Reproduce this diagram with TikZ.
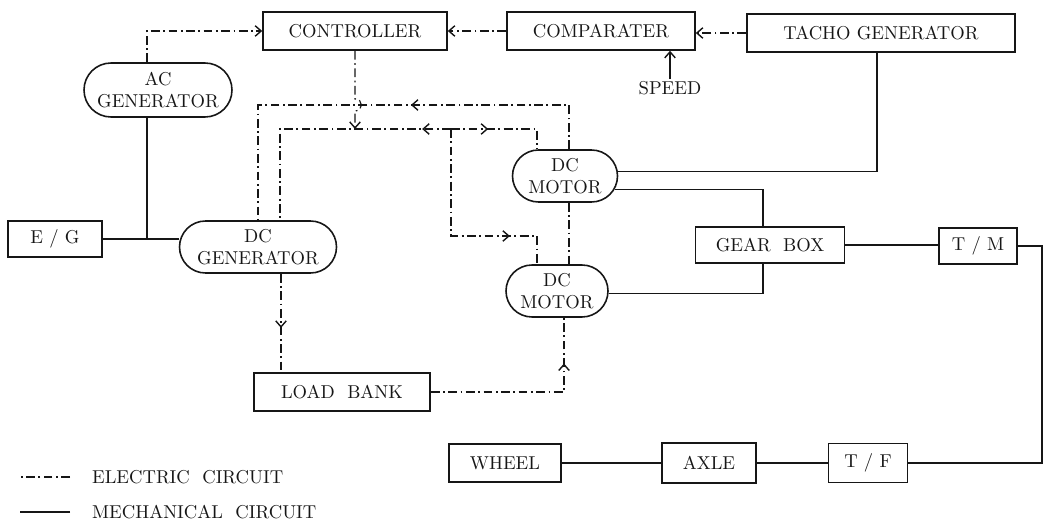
\documentclass[tikz,border=0pt]{standalone}
\usepackage{fontspec}
\usepackage{tikz}
\usetikzlibrary{arrows.meta,calc,decorations.markings,shapes.misc}
\definecolor{trInk}{HTML}{161616}
\tikzset{
  tr diagram/.style={font=\rmfamily\fontsize{10.6}{12.7}\selectfont\addfontfeatures{LetterSpace=4},
    text=trInk, line cap=butt, line join=miter},
  tr box/.style={draw=trInk, rectangle, line width=0.9pt, align=center,
    inner sep=0pt, minimum height=0.76cm},
  tr unit/.style={tr box, rounded rectangle, minimum height=1.04cm},
  tr mech/.style={draw=trInk, line width=0.65pt},
  tr elec/.style={tr mech, dash pattern=on 5pt off 2pt on 1pt off 2pt},
  tr arrow/.style={-{Straight Barb[length=1.2mm,width=2.1mm,line width=0.8pt]}},
  tr mid/.style={postaction={decorate}, decoration={markings,
    mark=at position #1 with {\arrow{Straight Barb[length=1.2mm,width=2.1mm,line width=0.8pt]}}}},
  tr label/.style={text=trInk, inner sep=1pt}
}
\begin{document}
\begin{tikzpicture}[tr diagram]
\useasboundingbox (0,0) rectangle (20.94,10.42);
\node[tr box,minimum width=3.68cm] (ctrl) at (7.10,9.80) {CONTROLLER};
\node[tr box,minimum width=3.76cm] (comp) at (12.02,9.80) {COMPARATER};
\node[tr box,minimum width=5.36cm] (tacho) at (17.62,9.76) {TACHO~GENERATOR};
\node[tr unit,minimum width=2.96cm,minimum height=1.08cm] (acgen) at (3.16,8.62) {AC\\GENERATOR};
\node[tr box,minimum width=1.88cm,minimum height=0.72cm] (eg) at (1.10,5.64) {E~/~G};
\node[tr unit,minimum width=3.14cm] (dcgen) at (5.16,5.48) {DC\\GENERATOR};
\node[tr unit,minimum width=2.10cm] (dcm1) at (11.30,6.90) {DC\\MOTOR};
\node[tr unit,minimum width=2.04cm] (dcm2) at (11.14,4.60) {DC\\MOTOR};
\node[tr box,minimum width=2.98cm,minimum height=0.72cm] (gear) at (15.40,5.52) {GEAR~~BOX};
\node[tr box,minimum width=1.56cm,minimum height=0.72cm] (tm) at (19.56,5.50) {T~/~M};
\node[tr box,minimum width=3.52cm] (load) at (6.84,2.58) {LOAD~~BANK};
\node[tr box,minimum width=2.24cm] (wheel) at (10.10,1.16) {WHEEL};
\node[tr box,minimum width=1.88cm,minimum height=0.80cm] (axle) at (14.18,1.16) {AXLE};
\node[tr box,minimum width=1.58cm,minimum height=0.78cm] (tf) at (17.36,1.16) {T~/~F};
\node[tr label] (speed) at (13.40,8.66) {SPEED};
\node[tr label,anchor=west] (elecKey) at (1.80,0.88) {ELECTRIC~~CIRCUIT};
\node[tr label,anchor=west] (mechKey) at (1.80,0.18) {MECHANICAL~~CIRCUIT};
\coordinate (acP) at ($(acgen.north)+(-0.22,0)$);
\coordinate (acQ) at ($(acgen.south)+(-0.22,0)$);
\coordinate (genB) at ($(dcgen.north)+(0.44,0)$);
\coordinate (genC) at ($(dcgen.south)+(0.46,0)$);
\coordinate (m1A) at ($(dcm1.north)+(0.08,0)$);
\coordinate (m1B) at ($(dcm1.north)+(-0.56,0)$);
\coordinate (m1D) at ($(dcm1.south)+(0.08,0)$);
\coordinate (m2B) at ($(dcm2.north)+(-0.40,0)$);
\coordinate (m2E) at ($(dcm2.south)+(0.14,0)$);
\coordinate (gT) at ($(gear.north)+(-0.14,0)$);
\coordinate (gB) at ($(gear.south)+(-0.14,0)$);
\coordinate (tP) at ($(tacho.south)+(-0.08,0)$);
\coordinate (busA) at (0,8.32);
\coordinate (jB) at (9.02,7.84);
\coordinate (jC) at (9.02,5.70);
\coordinate (hop) at (ctrl.south |- busA);
\coordinate (rside) at (20.84,3);
\draw[tr elec,tr arrow] (acP) |- (ctrl.west);
\draw[tr elec,tr arrow] (comp) -- (ctrl);
\draw[tr elec,tr arrow] (tacho.west) -- (tacho.west -| comp.east);
\draw[tr mech,tr arrow] (speed.north) -- (speed.north |- comp.south);
\draw[tr elec,tr arrow] (ctrl.south) -- ($(hop)+(0,0.12)$)
  .. controls +(0.17,0) and +(0.17,0) .. ($(hop)+(0,-0.12)$) -- (ctrl.south |- jB);
\draw[tr elec,tr mid=0.43] (m1A) |- (dcgen.north |- busA) -- (dcgen.north);
\draw[tr elec,tr mid=0.11] (jB) -| (genB);
\draw[tr elec,tr mid=0.35] (jB) -| (m1B);
\draw[tr elec,tr mid=0.75] (jB) -- (jC) -| (m2B);
\draw[tr elec] (m1D) -- (m1D |- dcm2.north);
\draw[tr elec,tr mid=0.55] (genC) -- (genC |- load.north);
\draw[tr elec,tr mid=0.78] (load.east) -| (m2E);
\draw[tr mech] (eg.east) -- (eg.east -| dcgen.west);
\draw[tr mech] (acQ) -- (acQ |- eg.east);
\draw[tr mech] (tP) |- (dcm1.5);
\draw[tr mech] (dcm1.-15) -| (gT);
\draw[tr mech] (dcm2.-3) -| (gB);
\draw[tr mech] (gear.east) -- (gear.east -| tm.west);
\draw[tr mech] (tm.east) -| (rside) |- (tf.east);
\draw[tr mech] (tf) -- (axle);
\draw[tr mech] (axle) -- (wheel);
\draw[tr elec] ([xshift=-0.4cm]elecKey.west) -- ++(-1,0);
\draw[tr mech] ([xshift=-0.4cm]mechKey.west) -- ++(-1,0);
\end{tikzpicture}
\end{document}
